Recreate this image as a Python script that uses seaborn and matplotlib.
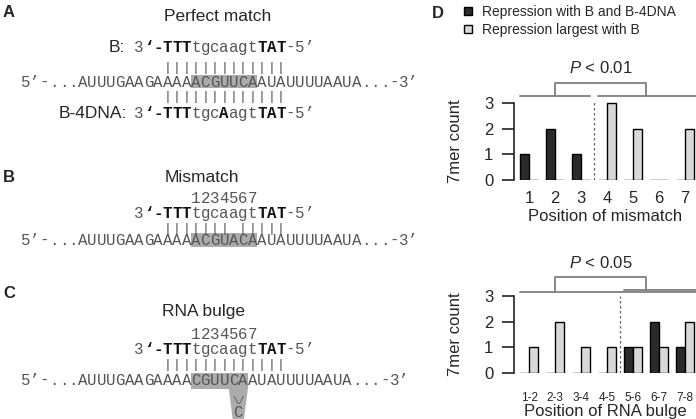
import matplotlib.pyplot as plt
import matplotlib.patches as mpatches
import seaborn as sns
import pandas as pd

sns.set_style('white')
plt.rcParams['font.family'] = ['Liberation Sans', 'DejaVu Sans']
plt.rcParams['mathtext.fontset'] = 'custom'
plt.rcParams['mathtext.it'] = 'Liberation Sans:italic'
plt.rcParams['mathtext.rm'] = 'Liberation Sans'

# panel D counts
mismatch_pos = ['1', '2', '3', '4', '5', '6', '7']
mismatch_both = [1, 2, 1, 0, 0, 0, 0]
mismatch_b = [0, 0, 0, 3, 2, 0, 2]
bulge_pos = ['1-2', '2-3', '3-4', '4-5', '5-6', '6-7', '7-8']
bulge_both = [0, 0, 0, 0, 1, 2, 1]
bulge_b = [1, 2, 1, 1, 1, 1, 2]
groups = ['Repression with B and B-4DNA', 'Repression largest with B']
colors = ['#2b2b2b', '#d9d9d9']

# panels A-C sequences
target_a = "5’-...AUUUGAAGAAAAACGUUCAAUAUUUUAAUA...-3’"
target_b = "5’-...AUUUGAAGAAAAACGUACAAUAUUUUAAUA...-3’"
target_c = "5’-...AUUUGAAGAAAACGUUCAAUAUUUUAAUA...-3’"
oligo_b = "3‘-TTTtgcaagtTAT-5’"
oligo_4dna = "3‘-TTTtgcAagtTAT-5’"
seed_numbers = "1234567"
pairs_full = "|||||||||||||"
pairs_mismatch = "||||||| |||||"

X0, CW = 21, 9.45
MONO_SIZE = 11.35
SEQ_GREY = '#555555'
HL_GREY = '#ababab'


def put_seq(ax, s, start, y, bold=(), size=MONO_SIZE, va='baseline', color=SEQ_GREY):
    for i, ch in enumerate(s):
        b = i in bold
        ax.text(X0 + (start + i + 0.5) * CW, y, ch, ha='center', va=va,
                family='Liberation Mono', fontsize=size,
                fontweight='bold' if b else 'normal',
                color='#111111' if b else color)


def highlight(ax, i0, i1, y0, y1):
    ax.add_patch(mpatches.Rectangle((X0 + i0 * CW, y0), (i1 - i0) * CW, y1 - y0,
                                    facecolor=HL_GREY, edgecolor='none', zorder=0))


def draw_counts(ax, pos, both, bonly, tick_size, tick_pad):
    df = pd.DataFrame({'pos': pos * 2,
                       'count': both + bonly,
                       'group': [groups[0]] * len(pos) + [groups[1]] * len(pos)})
    sns.barplot(data=df, x='pos', y='count', hue='group', hue_order=groups,
                palette=colors, width=0.7, edgecolor='black', linewidth=1,
                saturation=1, errorbar=None, legend=False, ax=ax)
    ax.set_ylim(0, 4.6)
    ax.set_xlim(-0.58, 6.42)
    ax.set_yticks([0, 1, 2, 3])
    for s in ['top', 'right', 'bottom']:
        ax.spines[s].set_visible(False)
    ax.spines['left'].set_bounds(0, 3)
    ax.spines['left'].set_color('#222222')
    ax.spines['left'].set_linewidth(1.2)
    ax.tick_params(axis='y', left=True, length=9, width=1.2, color='#222222',
                   labelsize=12, pad=6)
    ax.tick_params(axis='x', length=0, labelsize=tick_size, pad=tick_pad)
    ax.set_ylabel('7mer count', fontsize=12)
    ax.yaxis.set_label_coords(-0.28, 1.5 / 4.6)
    ax.patch.set_alpha(0)


fig = plt.figure(figsize=(6.96, 4.19), dpi=100)

# left panels drawn in pixel coordinates
tx = fig.add_axes([0, 0, 1, 1])
tx.set_xlim(0, 696)
tx.set_ylim(419, 0)
tx.axis('off')

for lab, y in [('A', 17), ('B', 182), ('C', 298)]:
    tx.text(3, y, lab, fontsize=12, fontweight='bold', va='baseline')

# A: perfect match
tx.text(218, 21, 'Perfect match', fontsize=12.5, ha='center', va='baseline')
tx.text(125, 52, 'B:', fontsize=12.5, ha='right', va='baseline')
tx.text(127, 118, 'B-4DNA:', fontsize=12.5, ha='right', va='baseline')
put_seq(tx, oligo_b, 12, 52, bold={1, 2, 3, 4, 5, 13, 14, 15})
put_seq(tx, pairs_full, 15, 67.5, size=9.5, va='center')
highlight(tx, 18, 25, 75, 88)
put_seq(tx, target_a, 0, 87)
put_seq(tx, pairs_full, 15, 97, size=9.5, va='center')
put_seq(tx, oligo_4dna, 12, 118, bold={1, 2, 3, 4, 5, 9, 13, 14, 15})

# B: mismatch
tx.text(202, 182, 'Mismatch', fontsize=12.5, ha='center', va='baseline')
put_seq(tx, seed_numbers, 18, 203)
put_seq(tx, oligo_b, 12, 218, bold={1, 2, 3, 4, 5, 13, 14, 15})
put_seq(tx, pairs_mismatch, 15, 228.5, size=9.5, va='center')
highlight(tx, 18, 25, 233, 247)
put_seq(tx, target_b, 0, 245)

# C: RNA bulge
tx.text(203, 316, 'RNA bulge', fontsize=12.5, ha='center', va='baseline')
put_seq(tx, seed_numbers, 18, 339)
put_seq(tx, oligo_b, 12, 354, bold={1, 2, 3, 4, 5, 13, 14, 15})
put_seq(tx, pairs_full, 15, 365, size=9.5, va='center')
highlight(tx, 18, 24, 373, 389)
tx.add_patch(mpatches.Polygon([(X0 + 22 * CW, 389), (X0 + 24 * CW, 389),
                               (X0 + 23.6 * CW, 419), (X0 + 22.4 * CW, 419)],
                              closed=True, facecolor=HL_GREY, edgecolor='none', zorder=0))
put_seq(tx, target_c, 0, 385)
tx.text(X0 + 23 * CW, 404, '\\/', ha='center', va='baseline', family='Liberation Mono',
        fontsize=7.5, color=SEQ_GREY)
tx.text(X0 + 23 * CW, 417, 'C', ha='center', va='baseline', family='Liberation Mono',
        fontsize=MONO_SIZE, color=SEQ_GREY)

# D: bar charts
tx.text(432, 18, 'D', fontsize=12, fontweight='bold', va='baseline')
handles = [mpatches.Patch(facecolor=c, edgecolor='black', linewidth=1) for c in colors]
fig.legend(handles, groups, loc='upper left', bbox_to_anchor=(464 / 696, 1 - 5 / 419),
           frameon=False, fontsize=10, handlelength=0.55, handleheight=0.55,
           handletextpad=0.75, labelspacing=0.3, borderpad=0, borderaxespad=0)

line_kw = dict(color='#7f7f7f', lw=1.3, clip_on=False)
dash_kw = dict(color='#666666', lw=0.9, ls=(0, (2, 2)))

ax1 = fig.add_axes([514 / 696, 1 - 180 / 419, 182 / 696, 4.6 * 25.7 / 419])
draw_counts(ax1, mismatch_pos, mismatch_both, mismatch_b, 12, 8)
ax1.set_xlabel('Position of mismatch', fontsize=12, labelpad=2)
ax1.plot([2.5, 2.5], [0, 3.05], **dash_kw)
ax1.plot([-0.35, 2.35], [3.27, 3.27], **line_kw)
ax1.plot([2.65, 6.42], [3.27, 3.27], **line_kw)
ax1.plot([1, 1, 4.5, 4.5], [3.27, 3.77, 3.77, 3.27], **line_kw)
ax1.text(2.75, 4.36, '$P$ < 0.01', ha='center', va='center', fontsize=12)

ax2 = fig.add_axes([514 / 696, 1 - 373 / 419, 182 / 696, 4.6 * 25.7 / 419])
draw_counts(ax2, bulge_pos, bulge_both, bulge_b, 8.5, 14)
ax2.set_xlabel('Position of RNA bulge', fontsize=12, labelpad=0)
ax2.plot([3.5, 3.5], [0, 3.0], **dash_kw)
ax2.plot([-0.35, 6.42], [3.15, 3.15], **line_kw)
ax2.plot([3.65, 6.42], [3.23, 3.23], **line_kw)
ax2.plot([1, 1, 4.5, 4.5], [3.15, 3.74, 3.74, 3.23], **line_kw)
ax2.text(2.75, 4.28, '$P$ < 0.05', ha='center', va='center', fontsize=12)

fig.savefig('out.png', dpi=100)
